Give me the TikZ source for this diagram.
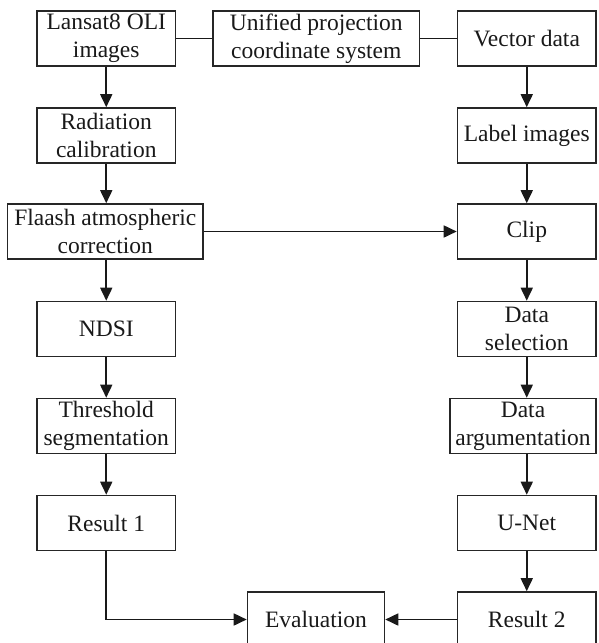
\documentclass[tikz,border=0pt]{standalone}
\usepackage{fontspec}
\setmainfont{Liberation Serif}
\usetikzlibrary{arrows.meta}
\begin{document}
\begin{tikzpicture}[x=1pt,y=-1pt,
  box/.style={draw=black!85,line width=1.6pt,rectangle,minimum height=55pt,
    inner xsep=2pt,inner ysep=0pt,align=center,text=black!90,
    font=\fontsize{23.5}{28}\selectfont},
  colbox/.style={box,minimum width=138.5pt},
  conn/.style={draw=black!90,line width=1.7pt},
  arr/.style={conn,-{Triangle[length=13pt,width=12pt]}}]
\useasboundingbox (0,0) rectangle (598,643);
\node[colbox] (lan) at (106.25,38.5) {Lansat8 OLI\\images};
\node[box,minimum width=206.5pt] (uni) at (316.25,38.5) {Unified projection\\coordinate system};
\node[colbox] (vec) at (526.75,38.5) {Vector data};
\node[colbox] (rad) at (106.25,135.5) {Radiation\\calibration};
\node[colbox] (lab) at (526.75,135.5) {Label images};
\node[box,minimum width=195.4pt] (fla) at (105.3,231.5) {Flaash atmospheric\\correction};
\node[colbox] (clip) at (526.75,231.5) {Clip};
\node[colbox] (ndsi) at (106.25,329) {NDSI};
\node[colbox] (dsel) at (526.75,329) {Data\\selection};
\node[colbox] (thr) at (106.25,426) {Threshold\\segmentation};
\node[box,minimum width=146pt] (darg) at (523,426) {Data\\argumentation};
\node[colbox] (res1) at (106.25,523) {Result 1};
\node[colbox] (unet) at (526.75,523) {U-Net};
\node[box,minimum width=137pt] (eval) at (316,619.5) {Evaluation};
\node[colbox] (res2) at (526.75,619.5) {Result 2};
\draw[conn] (lan) -- (uni);
\draw[conn] (uni) -- (vec);
\draw[arr] (lan.south -| rad.north) -- (rad.north);
\draw[arr] (rad.south) -- (rad.south |- fla.north);
\draw[arr] (rad.south |- fla.south) -- (ndsi.north);
\draw[arr] (ndsi) -- (thr);
\draw[arr] (thr) -- (res1);
\draw[arr] (fla.east) -- (clip.west);
\draw[arr] (vec) -- (lab);
\draw[arr] (lab) -- (clip);
\draw[arr] (clip) -- (dsel);
\draw[arr] (dsel.south) -- (dsel.south |- darg.north);
\draw[arr] (unet.north |- darg.south) -- (unet.north);
\draw[arr] (unet) -- (res2);
\draw[arr] (res2) -- (eval);
\draw[arr] (res1.south) |- (eval.west);
\end{tikzpicture}
\end{document}
